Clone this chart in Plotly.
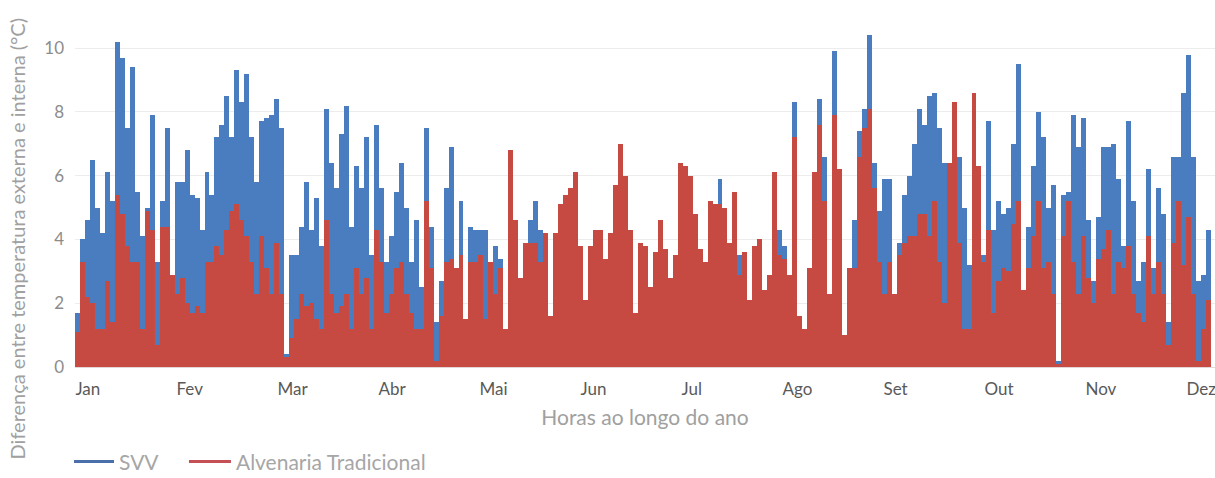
import numpy as np
import plotly.graph_objects as go

# Difference between outdoor and indoor temperature (°C), one sample every 36 h
svv = [
    1.7, 4.0, 4.6, 6.5, 5.0, 4.2, 6.1, 5.2, 10.2, 9.7,
    7.5, 9.4, 5.5, 4.1, 5.0, 7.9, 3.3, 5.2, 7.5, 2.9,
    5.8, 5.8, 6.8, 5.4, 5.3, 4.3, 6.1, 5.4, 7.2, 7.6,
    8.5, 7.2, 9.3, 8.3, 9.2, 7.2, 5.8, 7.7, 7.8, 7.9,
    8.4, 7.5, 0.4, 3.5, 3.5, 4.4, 5.8, 4.3, 5.3, 3.8,
    8.1, 6.4, 5.6, 7.3, 8.2, 4.4, 6.3, 5.6, 7.2, 3.5,
    7.6, 5.6, 3.3, 4.1, 5.5, 6.4, 5.0, 3.3, 4.6, 2.5,
    7.5, 4.4, 1.4, 2.7, 5.6, 6.9, 3.1, 5.2, 1.5, 4.4,
    4.3, 4.3, 4.3, 3.3, 3.8, 3.4, 1.2, 6.8, 4.6, 2.8,
    3.9, 4.6, 5.2, 4.3, 4.2, 1.6, 4.2, 5.1, 5.4, 5.6,
    6.1, 3.8, 2.1, 3.8, 4.3, 4.3, 3.4, 4.2, 5.7, 7.0,
    6.0, 4.3, 1.7, 3.9, 3.8, 2.5, 3.6, 4.6, 3.7, 2.8,
    3.5, 6.4, 6.3, 6.0, 4.8, 3.7, 3.3, 5.2, 5.1, 5.9,
    5.0, 3.9, 5.5, 3.5, 3.6, 2.1, 3.8, 4.0, 2.4, 2.9,
    6.1, 4.3, 3.8, 2.9, 8.3, 1.6, 1.2, 3.1, 6.1, 8.4,
    6.6, 2.3, 9.9, 6.2, 1.0, 3.1, 4.6, 7.4, 8.1, 10.4,
    6.4, 4.9, 5.9, 5.9, 2.3, 3.9, 5.4, 6.0, 7.0, 8.1,
    7.6, 8.5, 8.6, 7.5, 6.4, 4.3, 8.3, 6.6, 5.0, 3.2,
    8.6, 6.3, 3.5, 7.7, 4.3, 5.2, 4.8, 5.0, 7.0, 9.5,
    2.4, 4.4, 6.3, 8.0, 7.2, 5.0, 5.7, 0.2, 5.4, 5.5,
    7.9, 6.9, 7.8, 4.6, 2.7, 4.7, 6.9, 6.9, 7.0, 5.9,
    3.8, 7.7, 5.2, 2.7, 3.3, 6.2, 3.1, 5.6, 4.8, 1.4,
    6.6, 6.6, 8.6, 9.8, 6.6, 2.7, 2.9, 4.3,
]

alvenaria = [
    1.1, 3.3, 2.2, 2.0, 1.2, 1.2, 2.7, 1.4, 5.4, 4.8,
    3.8, 3.3, 3.3, 1.2, 4.9, 4.3, 0.7, 4.4, 4.4, 2.9,
    2.3, 2.8, 2.0, 1.7, 1.9, 1.7, 3.3, 3.3, 3.8, 3.5,
    4.3, 4.9, 5.1, 4.6, 4.1, 3.3, 2.3, 4.1, 3.1, 2.3,
    3.9, 2.3, 0.3, 0.9, 1.5, 2.3, 1.9, 2.0, 1.5, 1.2,
    4.6, 2.3, 1.7, 1.9, 2.3, 1.2, 3.1, 2.3, 2.8, 1.2,
    4.3, 3.3, 1.7, 2.3, 3.1, 3.3, 2.3, 1.7, 1.2, 1.2,
    5.2, 3.1, 0.2, 1.6, 3.3, 3.4, 3.1, 3.5, 1.5, 3.3,
    3.3, 3.5, 1.5, 3.3, 2.3, 3.1, 1.2, 6.8, 4.6, 2.8,
    3.9, 3.9, 3.9, 3.3, 4.2, 1.6, 4.2, 5.1, 5.4, 5.6,
    6.1, 3.8, 2.1, 3.8, 4.3, 4.3, 3.4, 4.2, 5.7, 7.0,
    6.0, 4.3, 1.7, 3.9, 3.8, 2.5, 3.6, 4.6, 3.7, 2.8,
    3.5, 6.4, 6.3, 6.0, 4.8, 3.7, 3.3, 5.2, 5.1, 5.1,
    5.0, 3.9, 5.5, 2.9, 3.6, 2.1, 3.8, 4.0, 2.4, 2.9,
    6.1, 3.5, 3.4, 2.9, 7.2, 1.6, 1.2, 3.1, 6.1, 7.6,
    5.2, 2.3, 7.9, 6.2, 1.0, 3.1, 3.1, 6.6, 7.5, 8.1,
    5.6, 3.3, 2.3, 3.3, 2.3, 3.5, 3.9, 4.1, 4.1, 4.8,
    4.8, 4.1, 5.2, 3.3, 2.0, 6.4, 8.3, 3.9, 1.2, 1.2,
    8.6, 6.3, 3.3, 4.3, 1.7, 2.7, 3.1, 3.0, 4.5, 5.2,
    2.4, 3.1, 4.1, 5.2, 3.1, 3.3, 2.3, 0.1, 4.1, 5.2,
    3.3, 2.3, 4.1, 2.8, 2.0, 3.4, 3.7, 4.3, 2.3, 3.3,
    3.1, 3.8, 2.3, 1.7, 1.4, 4.1, 2.3, 3.3, 2.3, 0.7,
    3.9, 5.2, 3.2, 4.7, 2.3, 0.2, 1.2, 2.1,
]

months = ["Jan", "Fev", "Mar", "Abr", "Mai", "Jun",
          "Jul", "Ago", "Set", "Out", "Nov", "Dez"]

STEP_H = 36            # hours between samples
HOURS_PER_MONTH = 730  # axis labels every 1/12 of the year
X_END = 8240           # visible part of the hour axis

hours = np.arange(len(svv)) * STEP_H + STEP_H / 2
month_ticks = [i * HOURS_PER_MONTH for i in range(len(months))]

BLUE = "#4a7cc0"
RED = "#c64a42"
FONT = "Lato"

fig = go.Figure()
fig.add_bar(x=hours, y=svv, width=STEP_H, name="SVV",
            marker=dict(color=BLUE, line_width=0), showlegend=False)
fig.add_bar(x=hours, y=alvenaria, width=STEP_H, name="Alvenaria Tradicional",
            marker=dict(color=RED, line_width=0), showlegend=False)

# line keys for the legend, one legend box per series
fig.add_scatter(x=[None], y=[None], mode="lines", name="SVV",
                line=dict(color="#4a70aa", width=3), legend="legend")
fig.add_scatter(x=[None], y=[None], mode="lines", name="Alvenaria Tradicional",
                line=dict(color="#c44f55", width=3), legend="legend2")

legend_style = dict(orientation="h", xref="container", yref="container",
                    y=0.034, xanchor="left", yanchor="middle",
                    font=dict(family=FONT, size=21, color="#a6a6a6"),
                    bgcolor="rgba(0,0,0,0)")

fig.update_layout(
    width=1215, height=478,
    margin=dict(l=75, r=0, t=29, b=111),
    paper_bgcolor="white", plot_bgcolor="white",
    barmode="overlay", bargap=0,
    font=dict(family=FONT, size=16, color="#8c8c8c"),
    legend=dict(legend_style, x=0.0568, itemwidth=40),
    legend2=dict(legend_style, x=0.1514, itemwidth=42),
    xaxis=dict(range=[0, X_END], tickvals=month_ticks, ticktext=months,
               ticklabelposition="outside right", ticks="",
               ticklabelstandoff=7, ticklabeloverflow="allow",
               tickfont=dict(size=17, color="#595959"),
               showgrid=False, zeroline=False,
               showline=True, linecolor="#e3d6d6", linewidth=1,
               title=dict(text="Horas ao longo do ano", standoff=11,
                          font=dict(size=21, color="#a0a0a0"))),
    yaxis=dict(range=[0, 10.6], tickvals=[0, 2, 4, 6, 8, 10],
               tickfont=dict(size=17, color="#8c8c8c"), ticklabelstandoff=10,
               showgrid=True, gridcolor="#ececec", gridwidth=1,
               zeroline=False),
    annotations=[dict(text="Diferença entre temperatura externa e interna (°C)",
                      xref="paper", yref="paper", x=-0.051, y=0.38,
                      xanchor="center", yanchor="middle", textangle=-90,
                      showarrow=False, font=dict(size=20, color="#a0a0a0"))],
)

fig.write_html("out.html")
